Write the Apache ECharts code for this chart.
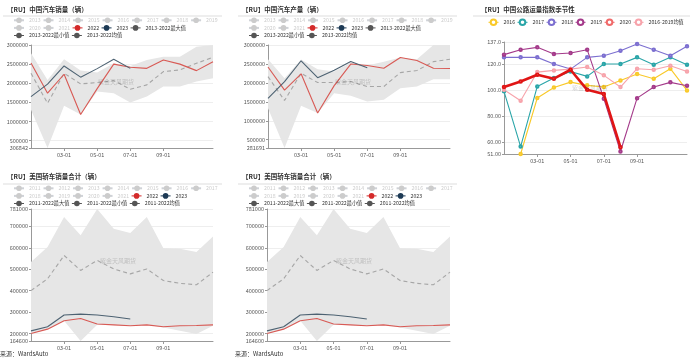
<!DOCTYPE html>
<html><head><meta charset="utf-8">
<script src="https://cdn.jsdelivr.net/npm/echarts@6/dist/echarts.min.js"></script>
<style>
body{margin:0;background:#fff;width:700px;height:359px;position:relative;overflow:hidden}
.c{position:absolute}
</style></head><body>
<div id="c1" class="c" style="left:0;top:0;width:233px;height:170px"></div>
<div id="c2" class="c" style="left:235px;top:0;width:233px;height:170px"></div>
<div id="c3" class="c" style="left:470px;top:0;width:230px;height:170px"></div>
<div id="c4" class="c" style="left:0;top:170px;width:233px;height:189px"></div>
<div id="c5" class="c" style="left:235px;top:170px;width:233px;height:189px"></div>
<script>
// ---------- data ----------
const months = ['01-01','02-01','03-01','04-01','05-01','06-01','07-01','08-01','09-01','10-01','11-01','12-01'];

const cnYearsOff = ['2013','2014','2015','2016','2017','2018','2019','2020','2021'];
const cnSales2022 = [2530000,1740000,2235000,1182000,1860000,2500000,2420000,2390000,2610000,2500000,2330000,2560000];
const cnSales2023 = [1650000,1976000,2452000,2159000,2382000,2626000,2389000];
const cnSalesMax  = [2783000,2087000,2626000,2330000,2278000,2522000,2452000,2609000,2696000,2696000,2957000,3000000];
const cnSalesMin  = [1304000,306842,1409000,1182000,1783000,1739000,1496000,1652000,1913000,1913000,2043000,2130000];
const cnSalesAvg  = [2261000,1478000,2261000,1983000,2017000,2070000,1843000,1957000,2304000,2348000,2522000,2678000];

const cnProd2022 = [2420000,1810000,2240000,1205000,1928000,2497000,2457000,2388000,2672000,2591000,2386000,2380000];
const cnProd2023 = [1594000,2032000,2584000,2136000,2333000,2563000,2401000];
const cnProdMax  = [2623000,2123000,2620000,2360000,2298000,2535000,2457000,2561000,2672000,2623000,3000000,3000000];
const cnProdMin  = [1333000,281691,1395000,1205000,1728000,1658000,1509000,1553000,1860000,1904000,2096000,2096000];
const cnProdAvg  = [2167000,1535000,2254000,2009000,2009000,2035000,1904000,1904000,2272000,2325000,2561000,2623000];

const roadNames = ['2016','2017','2018','2019','2020','2016-2019均值'];
const road2016 = [null,51.0,94.0,102.1,106.2,103.7,102.4,107.5,112.4,108.8,116.5,99.8];
const road2017 = [99.1,56.7,102.9,109.3,114.4,110.6,120.1,120.1,125.2,119.6,125.2,119.6];
const road2018 = [125.2,125.2,125.2,120.1,116.2,125.2,126.5,130.3,135.5,131.1,126.5,133.7];
const road2019 = [127.3,131.1,132.9,127.8,128.5,131.1,93.5,52.9,93.9,102.4,106.0,103.4];
const road2020 = [102.4,106.7,111.9,108.8,115.7,100.3,97.0,56.2];
const roadAvg  = [100.3,91.9,113.9,115.2,116.2,117.8,111.4,102.4,116.5,115.7,118.8,114.4];

const usYearsOff = ['2011','2012','2013','2014','2015','2016','2017','2018','2019','2020','2021'];
const us2022 = [200000,220000,259000,270000,244000,240000,236000,240000,231000,236000,237000,240000];
const us2023 = [212000,231000,286000,290000,286000,278000,267000];
const usMax  = [533000,603000,744000,658000,781000,689000,669000,744000,598000,595000,580000,653000];
const usMin  = [197000,220000,259000,164600,240000,239000,236000,240000,228000,212000,197000,236000];
const usAvg  = [400000,455000,564000,494000,541000,501000,478000,501000,447000,434000,427000,486000];

// ---------- styles ----------
const FONT = "'Noto Sans CJK SC', sans-serif";
const labelIdx = i => i === 2 || i === 4 || i === 6 || i === 8;

function xAxisCfg(){
  return {type:'category', data:months, boundaryGap:false,
    axisLine:{lineStyle:{color:'#999'}},
    axisTick:{interval:labelIdx, length:3, lineStyle:{color:'#999'}},
    axisLabel:{interval:labelIdx, fontSize:5.5, color:'#555', margin:4}};
}
function yAxisCfg(mn, mx, fmt){
  return {type:'value', min:mn, max:mx,
    axisLine:{show:true, lineStyle:{color:'#999'}},
    axisTick:{show:true, length:2, lineStyle:{color:'#999'}},
    axisLabel:{fontSize:5.5, color:'#555', margin:3, formatter:fmt || (v => String(v))},
    splitLine:{lineStyle:{color:'#eee'}}};
}
const legendBase = {itemWidth:10, itemHeight:7, itemGap:2, padding:0,
  textStyle:{fontSize:5.2, color:'#333', fontFamily:FONT}};

function seasonal(cfg){
  const offNames = cfg.off;
  const maxName = cfg.range + '最大值', minName = cfg.range + '最小值', avgName = cfg.range + '均值';
  const selected = {};
  offNames.forEach(n => selected[n] = false);
  const series = offNames.map(n => ({name:n, type:'line', data:[], symbol:'circle', itemStyle:{color:'#ccc'}}));
  const dark = '#555';
  series.push({name:minName, type:'line', data:cfg.min, stack:'band', symbol:'circle', showSymbol:false,
    itemStyle:{color:dark}, lineStyle:{color:'rgba(0,0,0,0)', width:0}, z:1, silent:true});
  series.push({name:maxName, type:'line', data:cfg.max.map((v,i)=>v - cfg.min[i]), stack:'band', symbol:'circle', showSymbol:false,
    itemStyle:{color:dark}, lineStyle:{color:'rgba(0,0,0,0)', width:0}, areaStyle:{color:'#e6e6e6', opacity:1}, z:1, silent:true});
  series.push({name:avgName, type:'line', data:cfg.avg, symbol:'circle', showSymbol:false,
    itemStyle:{color:dark}, lineStyle:{color:'#a6a6a6', width:1.1, type:[4,3]}, z:2});
  series.push({name:'2022', type:'line', data:cfg.y22, symbol:'circle', showSymbol:false,
    itemStyle:{color:'#d42a2a'}, lineStyle:{color:'#d85a55', width:1.1}, z:3});
  series.push({name:'2023', type:'line', data:cfg.y23, symbol:'circle', showSymbol:false,
    itemStyle:{color:'#1d3a55'}, lineStyle:{color:'#4d6272', width:1.1}, z:4});

  const names = offNames.concat(['2022','2023', maxName, minName, avgName]);
  const legendData = names.map(n => {
    if ([maxName,minName,avgName].includes(n)) return {name:n, itemStyle:{color:dark}, lineStyle:{color:dark, width:1, type:'solid', opacity:1}};
    if (n === '2022') return {name:n, lineStyle:{color:'#d42a2a', width:1}};
    if (n === '2023') return {name:n, lineStyle:{color:'#1d3a55', width:1}};
    return {name:n};
  });

  return {
    animation:false,
    textStyle:{fontFamily:FONT},
    title:{text:cfg.title, left:7, top:cfg.titleTop, padding:0, textStyle:{fontSize:6.5, fontWeight:'bold', color:'#333', fontFamily:FONT}},
    legend:Object.assign({}, legendBase, {left:13, right:10, top:cfg.legendTop, inactiveColor:'#ccc', selected:selected, data:legendData}),
    grid:cfg.grid,
    xAxis:xAxisCfg(),
    yAxis:yAxisCfg(Math.min(...cfg.min), cfg.yMax),
    series:series,
    graphic:cfg.graphic
  };
}

function sepLine(y, x2){ return {type:'line', shape:{x1:3, y1:y, x2:x2, y2:y}, style:{stroke:'#ddd', lineWidth:1}, silent:true}; }
function mark(x, y){ return {type:'text', left:x, top:y, style:{text:'紫金天风期货', fill:'rgba(0,0,0,0.18)', font:'6px ' + FONT}, silent:true, z:10}; }
function source(){ return {type:'text', left:0, top:181, style:{text:'来源：WardsAuto', fill:'#333', font:'6px ' + FONT}, silent:true}; }

const c1 = echarts.init(document.getElementById('c1'));
c1.setOption(seasonal({title:'【RU】中国汽车销量（辆）', off:cnYearsOff, range:'2013-2022',
  min:cnSalesMin, max:cnSalesMax, avg:cnSalesAvg, y22:cnSales2022, y23:cnSales2023, yMax:3000000,
  titleTop:6, legendTop:17.5, grid:{left:31, right:20, top:45, bottom:22},
  graphic:[sepLine(16, 222), mark(98, 79)]}));

const c2 = echarts.init(document.getElementById('c2'));
c2.setOption(seasonal({title:'【RU】中国汽车产量（辆）', off:cnYearsOff, range:'2013-2022',
  min:cnProdMin, max:cnProdMax, avg:cnProdAvg, y22:cnProd2022, y23:cnProd2023, yMax:3000000,
  titleTop:6, legendTop:17.5, grid:{left:33, right:18, top:45, bottom:22},
  graphic:[sepLine(16, 222), mark(100, 79)]}));

const c4 = echarts.init(document.getElementById('c4'));
c4.setOption(seasonal({title:'【RU】美国轿车销量合计（辆）', off:usYearsOff, range:'2011-2022',
  min:usMin, max:usMax, avg:usAvg, y22:us2022, y23:us2023, yMax:Math.max(...usMax),
  titleTop:3.5, legendTop:15.5, grid:{left:31, right:20, top:39, bottom:18},
  graphic:[sepLine(14, 222), mark(100, 88), source()]}));

const c5 = echarts.init(document.getElementById('c5'));
c5.setOption(seasonal({title:'【RU】美国轿车销量合计（辆）', off:usYearsOff, range:'2011-2022',
  min:usMin, max:usMax, avg:usAvg, y22:us2022, y23:us2023, yMax:Math.max(...usMax),
  titleTop:3.5, legendTop:15.5, grid:{left:32, right:18, top:39, bottom:18},
  graphic:[sepLine(14, 222), mark(101, 88), source()]}));

// road freight seasonal
const roadColors = ['#f9c929','#2aa5a8','#7c6fd0','#a43a8a','#e01515','#f7a3ab'];
const roadLegendColors = ['#f9c929','#2aa5a8','#7c6fd0','#a43a8a','#f06a6a','#f7a3ab'];
const roadData = [road2016, road2017, road2018, road2019, road2020, roadAvg];
const c3 = echarts.init(document.getElementById('c3'));
c3.setOption({
  animation:false,
  textStyle:{fontFamily:FONT},
  title:{text:'【RU】中国公路运量指数季节性', left:11, top:6, padding:0, textStyle:{fontSize:6.5, fontWeight:'bold', color:'#333', fontFamily:FONT}},
  legend:Object.assign({}, legendBase, {left:18, top:18.5,
    data:roadNames.map((n,i)=>({name:n, itemStyle:{color:roadLegendColors[i]}, lineStyle:{color:roadLegendColors[i], width:1}}))}),
  grid:{left:34, right:13, top:42, bottom:16},
  xAxis:xAxisCfg(),
  yAxis:yAxisCfg(51, 137, v => v.toPrecision(4)),
  series:roadNames.map((n,i)=>({name:n, type:'line', data:roadData[i], symbol:'emptyCircle', symbolSize:2.5, showSymbol:true,
    itemStyle:{color:roadColors[i]}, lineStyle:{color:roadColors[i], width: i===4 ? 2.6 : 1.1}, z: i===4 ? 5 : 2})),
  graphic:[sepLine(16, 220), mark(102, 85)]
});
</script>
</body></html>
